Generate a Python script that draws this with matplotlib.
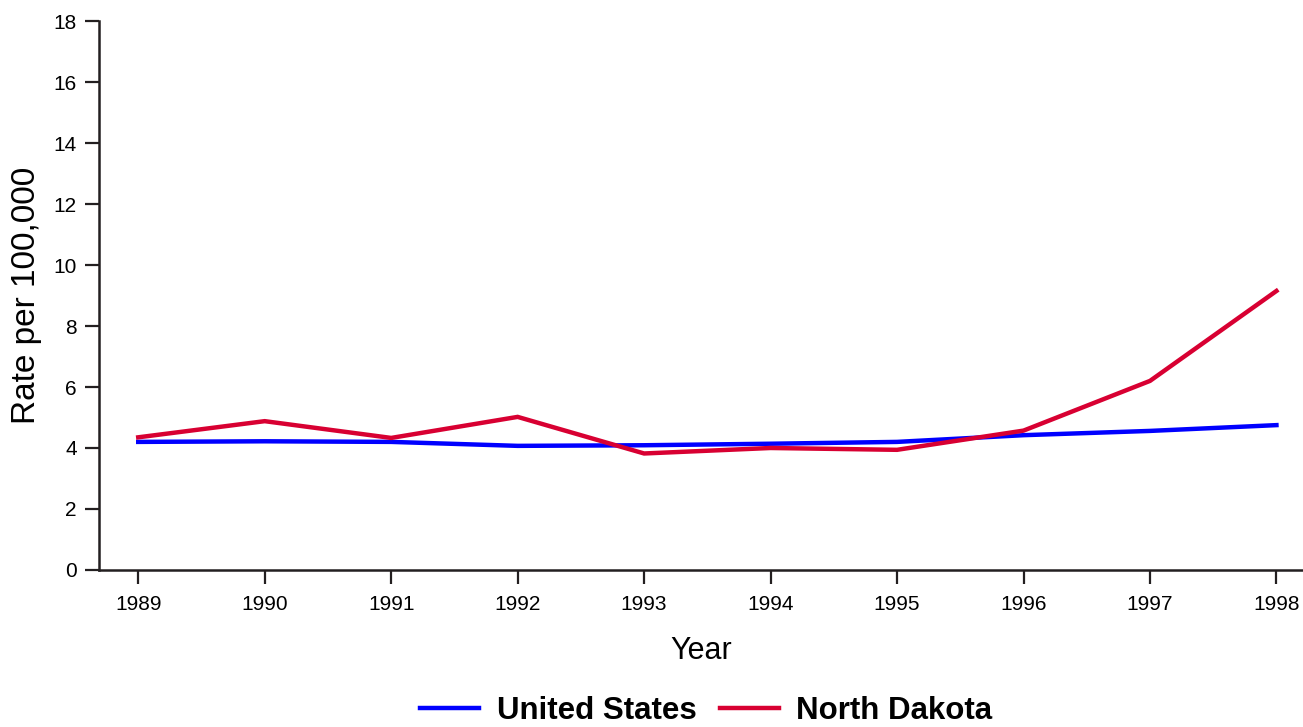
import matplotlib
matplotlib.use("Agg")
import matplotlib.pyplot as plt

# data
years = [1989, 1990, 1991, 1992, 1993, 1994, 1995, 1996, 1997, 1998]
us_rate = [4.20, 4.22, 4.20, 4.07, 4.09, 4.14, 4.20, 4.42, 4.56, 4.75]
nd_rate = [4.35, 4.88, 4.33, 5.02, 3.82, 4.00, 3.94, 4.57, 6.20, 9.15]
y_ticks = [0, 2, 4, 6, 8, 10, 12, 14, 16, 18]

plt.rcParams['font.family'] = ['Liberation Sans', 'DejaVu Sans']
dark = '#231f20'

fig = plt.figure(figsize=(13.03, 7.27), dpi=100)
ax = fig.add_axes([0.076, 0.216, 0.924, 0.755])

ax.plot(years, us_rate, color='#0000ff', lw=3.2, label='United States', solid_joinstyle='miter')
ax.plot(years, nd_rate, color='#d80032', lw=3.2, label='North Dakota', solid_joinstyle='miter')

ax.set_xlim(1988.69, 1998.21)
ax.set_ylim(0, 18)
ax.set_xticks(years)
ax.set_yticks(y_ticks)

for s in ['top', 'right']:
    ax.spines[s].set_visible(False)
for s in ['left', 'bottom']:
    ax.spines[s].set_linewidth(1.8)
    ax.spines[s].set_color(dark)

ax.tick_params(axis='both', length=10, width=1.6, color=dark, labelsize=15)
ax.tick_params(axis='x', pad=8)
ax.tick_params(axis='y', pad=6)

ax.set_xlabel('Year', fontsize=22, labelpad=16)
ax.set_ylabel('Rate per 100,000', fontsize=24, labelpad=8)

# legend sits at the very bottom edge, as in the source
fig.legend(loc='center', bbox_to_anchor=(0.542, 1 - 711 / 727), ncol=2, frameon=False,
           prop={'weight': 'bold', 'size': 22.5}, handlelength=1.9, handletextpad=0.55,
           columnspacing=0.75)

fig.savefig('out.png', dpi=100)
